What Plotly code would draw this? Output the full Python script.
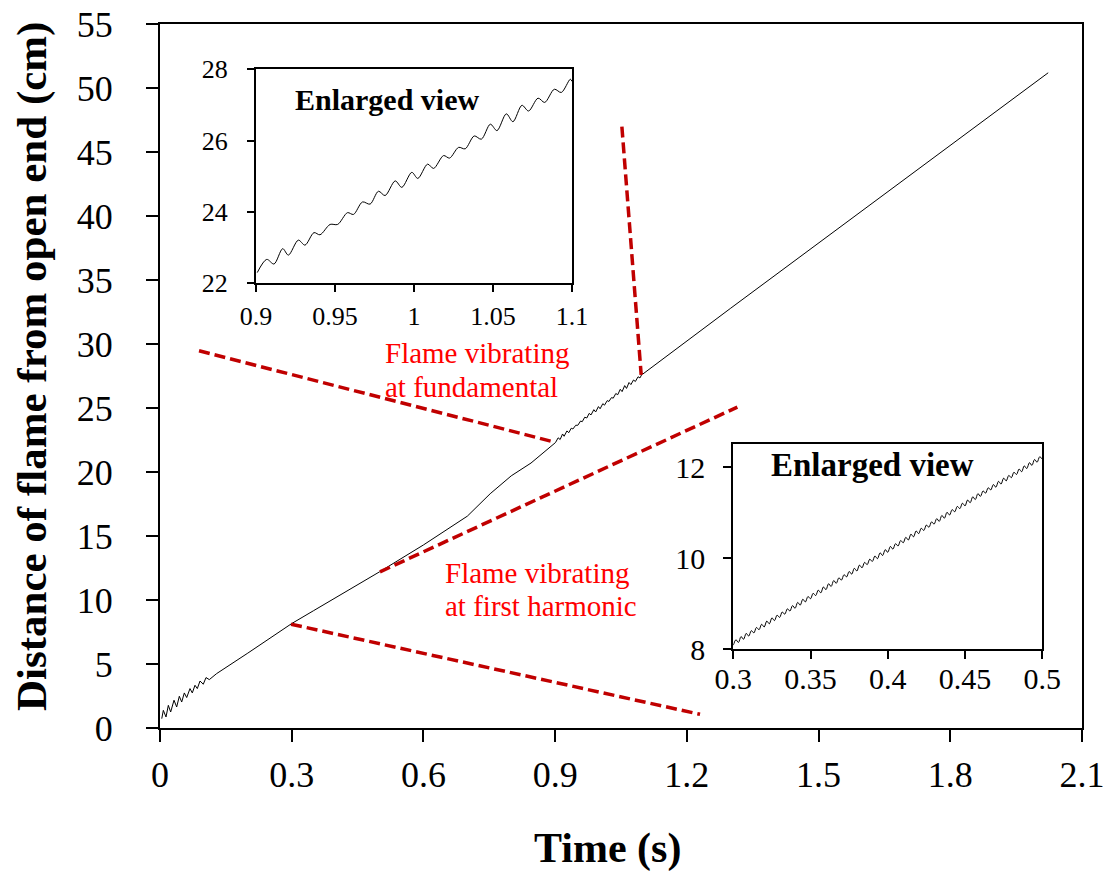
import numpy as np
import plotly.graph_objects as go

# ---- main record: flame position (cm) against time (s) ----
EARLY_T = [0.004, 0.0076, 0.0137, 0.019, 0.0243, 0.0319, 0.038, 0.044, 0.0494, 0.0554,
           0.0608, 0.0683, 0.0736, 0.0797, 0.085, 0.0911, 0.0986, 0.1048, 0.1123, 0.129,
           0.2, 0.3, 0.35, 0.4, 0.45, 0.5, 0.6, 0.69, 0.70, 0.752, 0.8, 0.845, 0.89]
EARLY_V = [0.73, 1.38, 0.86, 1.77, 1.25, 2.17, 1.64, 2.48, 2.03, 2.74,
           2.38, 3.08, 2.74, 3.34, 3.08, 3.67, 3.42, 3.94, 3.78, 4.25,
           5.85, 8.16, 9.17, 10.18, 11.18, 12.2, 14.3, 16.35, 16.55, 18.3, 19.7, 20.7, 22.0]

# fundamental-mode window (0.9 - 1.1 s), peaks and troughs
FUND_T = [0.9008, 0.9068, 0.9114, 0.9169, 0.9205, 0.9268, 0.9310, 0.9367, 0.9405, 0.9469,
          0.9517, 0.9579, 0.9617, 0.9674, 0.9722, 0.9775, 0.9817, 0.9881, 0.9923, 0.9986,
          1.0024, 1.0086, 1.0124, 1.0187, 1.0225, 1.0282, 1.0324, 1.0381, 1.0426, 1.0483,
          1.0525, 1.0584, 1.0626, 1.0683, 1.0725, 1.0785, 1.0827, 1.0888, 1.0932, 1.0989, 1.1]
FUND_V = [22.30, 22.67, 22.54, 22.97, 22.79, 23.21, 23.07, 23.42, 23.36, 23.65,
          23.65, 23.98, 23.93, 24.28, 24.22, 24.58, 24.46, 24.87, 24.69, 25.11,
          24.94, 25.34, 25.22, 25.58, 25.51, 25.81, 25.77, 26.13, 26.04, 26.46,
          26.28, 26.75, 26.53, 26.99, 26.83, 27.19, 27.07, 27.44, 27.35, 27.72, 27.66]

LATE_T = [1.3, 1.5, 1.7, 1.9, 2.023]
LATE_V = [32.8, 37.9, 42.97, 48.06, 51.19]

# first-harmonic window (0.3 - 0.5 s), alternating troughs and peaks
HARM_V = [8.09, 8.21, 8.15, 8.28, 8.22, 8.35, 8.29, 8.41, 8.36, 8.48,
          8.43, 8.55, 8.49, 8.62, 8.56, 8.69, 8.63, 8.75, 8.70, 8.82,
          8.77, 8.89, 8.84, 8.96, 8.90, 9.03, 8.97, 9.10, 9.04, 9.16,
          9.11, 9.23, 9.18, 9.30, 9.24, 9.37, 9.31, 9.44, 9.38, 9.51,
          9.45, 9.57, 9.52, 9.64, 9.59, 9.71, 9.65, 9.78, 9.72, 9.85,
          9.79, 9.91, 9.86, 9.98, 9.93, 10.05, 9.99, 10.12, 10.06, 10.19,
          10.13, 10.26, 10.20, 10.32, 10.27, 10.39, 10.34, 10.46, 10.40, 10.53,
          10.47, 10.60, 10.54, 10.66, 10.61, 10.73, 10.68, 10.80, 10.75, 10.87,
          10.81, 10.94, 10.88, 11.01, 10.95, 11.07, 11.02, 11.14, 11.09, 11.21,
          11.15, 11.28, 11.22, 11.35, 11.29, 11.42, 11.36, 11.48, 11.43, 11.55,
          11.50, 11.62, 11.56, 11.69, 11.63, 11.76, 11.70, 11.82, 11.77, 11.89,
          11.84, 11.96, 11.90, 12.03, 11.97, 12.10, 12.04, 12.17, 12.11, 12.23, 12.18]
HARM_T = np.linspace(0.3, 0.5, len(HARM_V))

X_TICKS = [0, 0.3, 0.6, 0.9, 1.2, 1.5, 1.8, 2.1]
X_LABELS = ["0", "0.3", "0.6", "0.9", "1.2", "1.5", "1.8", "2.1"]

# guide lines: (t0, v0, t1, v1) in main-axis units
GUIDES = [
    (0.0889, 29.47, 0.896, 22.36),
    (1.052, 46.99, 1.096, 27.58),
    (0.2985, 8.11, 1.230, 1.07),
    (0.501, 12.2, 1.315, 25.07),
]

FONT = "Liberation Serif"
RED_TEXT = "#FF0000"
GUIDE_RED = "#C00000"

main_t = EARLY_T + FUND_T + LATE_T
main_v = EARLY_V + FUND_V + LATE_V

fig = go.Figure()
fig.add_trace(go.Scatter(x=main_t, y=main_v, mode="lines",
                         line=dict(color="black", width=1), xaxis="x", yaxis="y"))
fig.add_trace(go.Scatter(x=FUND_T, y=FUND_V, mode="lines",
                         line=dict(color="black", width=1, shape="spline", smoothing=0.9),
                         xaxis="x2", yaxis="y2"))
fig.add_trace(go.Scatter(x=HARM_T, y=HARM_V, mode="lines",
                         line=dict(color="black", width=1, shape="spline", smoothing=0.9),
                         xaxis="x3", yaxis="y3"))

for t0, v0, t1, v1 in GUIDES:
    fig.add_shape(type="line", x0=t0, y0=v0, x1=t1, y1=v1, xref="x", yref="y",
                  line=dict(color=GUIDE_RED, width=3.5, dash="11px,5px"), layer="above")

axis_common = dict(showline=True, linecolor="black", mirror=True, ticks="outside",
                   tickcolor="black", showgrid=False, zeroline=False, automargin=False)

fig.update_layout(
    template="none",
    width=1111, height=874,
    margin=dict(l=160, r=29, t=24, b=146),
    paper_bgcolor="white", plot_bgcolor="white",
    showlegend=False,
    font=dict(family=FONT, color="black"),
    xaxis=dict(axis_common, domain=[0, 1], range=[0, 2.1], tickvals=X_TICKS, ticktext=X_LABELS,
               linewidth=2, tickwidth=2, ticklen=12, tickfont=dict(size=36),
               ticklabelstandoff=2),
    yaxis=dict(axis_common, domain=[0, 1], range=[0, 55], dtick=5,
               linewidth=2, tickwidth=2, ticklen=12, tickfont=dict(size=36),
               ticklabelstandoff=26),
    xaxis2=dict(axis_common, domain=[0.1041, 0.4469], range=[0.9, 1.1], dtick=0.05,
                anchor="y2", linewidth=2, tickwidth=2, ticklen=7, tickfont=dict(size=26),
                ticklabelstandoff=2),
    yaxis2=dict(axis_common, domain=[0.6317, 0.9357], range=[22, 28], dtick=2,
                anchor="x2", linewidth=2, tickwidth=2, ticklen=7, tickfont=dict(size=26),
                ticklabelstandoff=14),
    xaxis3=dict(axis_common, domain=[0.6218, 0.9569], range=[0.3, 0.5], dtick=0.05,
                anchor="y3", linewidth=2, tickwidth=2, ticklen=8, tickfont=dict(size=30),
                ticklabelstandoff=-6),
    yaxis3=dict(axis_common, domain=[0.1118, 0.4034], range=[8, 12.51], tickvals=[8, 10, 12],
                anchor="x3", linewidth=2, tickwidth=2, ticklen=8, tickfont=dict(size=30),
                ticklabelstandoff=12),
)

# axis titles
fig.add_annotation(text="<b>Time (s)</b>", xref="paper", yref="paper", x=0.4859, y=-0.1705,
                   showarrow=False, font=dict(size=42), xanchor="center", yanchor="middle")
fig.add_annotation(text="<b>Distance of flame from open end (cm)</b>", xref="paper", yref="paper",
                   x=-0.1388, y=0.5128, textangle=-90, showarrow=False, font=dict(size=43),
                   xanchor="center", yanchor="middle")

# labels for the two vibration regimes
for txt, tx, ty in [("Flame vibrating", 0.508, 29.3), ("at fundamental", 0.508, 26.64),
                    ("Flame vibrating", 0.645, 12.1), ("at first harmonic", 0.645, 9.52)]:
    fig.add_annotation(text=txt, x=tx, y=ty, xref="x", yref="y", showarrow=False,
                       xanchor="left", yanchor="middle", font=dict(size=29, color=RED_TEXT))

# inset captions
fig.add_annotation(text="<b>Enlarged view</b>", x=0.983, y=27.14, xref="x2", yref="y2",
                   showarrow=False, font=dict(size=30), xanchor="center", yanchor="middle")
fig.add_annotation(text="<b>Enlarged view</b>", x=0.390, y=12.05, xref="x3", yref="y3",
                   showarrow=False, font=dict(size=33), xanchor="center", yanchor="middle")

fig.write_html("out.html")
